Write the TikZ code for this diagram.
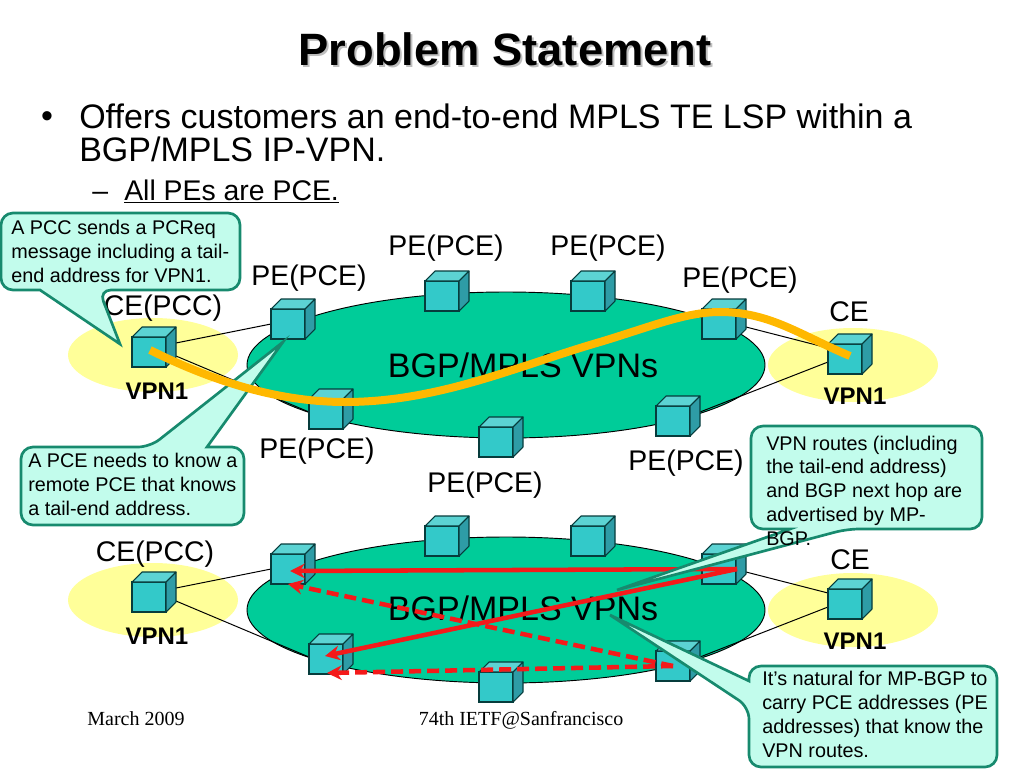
\documentclass[tikz,border=0pt]{standalone}
\usepackage{fontspec}
\setmainfont{Liberation Sans}
\newfontfamily\seriffam{Liberation Serif}
\usetikzlibrary{arrows.meta}
\pgfdeclarelayer{bg}
\pgfsetlayers{bg,main}
\definecolor{cubefront}{HTML}{33C9C9}
\definecolor{cubetop}{HTML}{5CD3D3}
\definecolor{cubeside}{HTML}{2E9CA6}
\definecolor{cubeedge}{HTML}{063C3C}
\definecolor{cloud}{HTML}{00CC99}
\definecolor{siteyellow}{HTML}{FFFF99}
\definecolor{notefill}{HTML}{C2FCEC}
\definecolor{noteline}{HTML}{178A6E}
\definecolor{tubeorange}{HTML}{FFB800}
\definecolor{arrowred}{HTML}{F41A1A}
\tikzset{
  x=0.75pt,y=-0.75pt,
  cubebox/.style={draw=cubeedge,line width=0.8pt,fill=cubefront,minimum width=25.5pt,minimum height=22.5pt,inner sep=0pt,outer sep=0pt},
  cubeface/.style={draw=cubeedge,line width=0.8pt,line join=round},
  cloudshape/.style={draw=black,line width=0.7pt,fill=cloud},
  siteshape/.style={fill=siteyellow},
  link/.style={draw=black,line width=0.75pt},
  plabel/.style={anchor=base,inner sep=0pt,font=\fontsize{21.3}{25}\selectfont},
  vpnlabel/.style={anchor=base,inner sep=0pt,font=\fontsize{18}{22}\selectfont\bfseries},
  cloudlabel/.style={anchor=base,inner sep=0pt,font=\fontsize{25.5}{30}\selectfont},
  notebody/.style={draw=noteline,line width=2pt,fill=notefill,line join=miter},
  notetext/.style={anchor=base west,inner sep=0pt,align=left,font=\fontsize{14.85}{17.8}\selectfont},
  tube/.style={draw=tubeorange,line width=6pt},
  redsolid/.style={draw=arrowred,line width=3.4pt,-{Stealth[length=11pt,width=11pt]}},
  reddash/.style={draw=arrowred,line width=3.4pt,dash pattern=on 9pt off 4.5pt,-{Stealth[length=11pt,width=11pt]}},
  footer/.style={anchor=base,inner sep=0pt,font=\seriffam\fontsize{15}{18}\selectfont},
}
\newcommand{\cubeat}[3]{%
  \node[cubebox] (#1) at (#2+17,#3+15) {};
  \draw[cubeface,fill=cubetop] (#1.north west) -- ++(10,-10) -- ++(34,0) -- ++(-10,10) -- cycle;
  \draw[cubeface,fill=cubeside] (#1.north east) -- ++(10,-10) -- ++(0,30) -- ++(-10,10) -- cycle;
}
\begin{document}
\begin{tikzpicture}
\useasboundingbox (0,0) rectangle (1024,768);
% cubes, upper network
\cubeat{ceA}{132}{337}
\cubeat{peA}{271}{309}
\cubeat{peB}{309}{399}
\cubeat{peC}{425}{281}
\cubeat{peD}{571}{281}
\cubeat{peE}{702}{309}
\cubeat{peF}{656}{406}
\cubeat{peG}{479}{427}
\cubeat{ceB}{828}{344}
% cubes, lower network
\cubeat{ceC}{132}{582}
\cubeat{peH}{271}{554}
\cubeat{peI}{309}{644}
\cubeat{peJ}{425}{526}
\cubeat{peK}{571}{526}
\cubeat{peL}{702}{554}
\cubeat{peM}{656}{651}
\cubeat{peN}{479}{672}
\cubeat{ceD}{828}{589}
\begin{pgfonlayer}{bg}
  \fill[siteshape] (153,355) ellipse [x radius=85,y radius=37];
  \fill[siteshape] (853,365) ellipse [x radius=85,y radius=37];
  \fill[siteshape] (153,600) ellipse [x radius=85,y radius=37];
  \fill[siteshape] (853,610) ellipse [x radius=85,y radius=37];
  \draw[cloudshape] (506,365) ellipse [x radius=259,y radius=73];
  \draw[cloudshape] (506,610) ellipse [x radius=259,y radius=73];
  \draw[link] ([shift={(10,6)}]ceA.north east) -- (peA.west);
  \draw[link] ([shift={(10,19)}]ceA.north east) -- ([shift={(0,13)}]peB.north west);
  \draw[link] ([shift={(10,18)}]peE.north east) -- ([shift={(0,4)}]ceB.north west);
  \draw[link] ([shift={(10,6)}]peF.north east) -- ([shift={(0,18)}]ceB.north west);
  \draw[link] ([shift={(10,6)}]ceC.north east) -- (peH.west);
  \draw[link] ([shift={(10,19)}]ceC.north east) -- ([shift={(0,13)}]peI.north west);
  \draw[link] ([shift={(10,18)}]peL.north east) -- ([shift={(0,4)}]ceD.north west);
  \draw[link] ([shift={(10,6)}]peM.north east) -- ([shift={(0,18)}]ceD.north west);
\end{pgfonlayer}
% title and bullets
\node[anchor=base,inner sep=0pt,text=black!25,font=\fontsize{34}{40}\selectfont\bfseries] (titleshadow) at (507,67) {Problem Statement};
\node[anchor=base,inner sep=0pt,font=\fontsize{34}{40}\selectfont\bfseries] (title) at (505,65) {Problem Statement};
\node[anchor=base,inner sep=0pt,font=\fontsize{25.5}{30}\selectfont] (bullet) at (47,127) {•};
\node[anchor=base west,inner sep=0pt,font=\fontsize{25.5}{30}\selectfont] (lineone) at (79,128) {Offers customers an end-to-end MPLS TE LSP within a};
\node[anchor=base west,inner sep=0pt,font=\fontsize{25.5}{30}\selectfont] (linetwo) at (79,161) {BGP/MPLS IP-VPN.};
\node[anchor=base west,inner sep=0pt,font=\fontsize{21.3}{25}\selectfont] (dash) at (92,200) {–};
\node[anchor=base west,inner sep=0pt,font=\fontsize{21.3}{25}\selectfont] (subline) at (124,200) {\underline{All PEs are PCE.}};
% labels
\node[plabel] (l1) at (446,255) {PE(PCE)};
\node[plabel] (l2) at (608,255) {PE(PCE)};
\node[plabel] (l3) at (309,285) {PE(PCE)};
\node[plabel] (l4) at (740,287) {PE(PCE)};
\node[plabel] (l5) at (317,458) {PE(PCE)};
\node[plabel] (l6) at (686,470) {PE(PCE)};
\node[plabel] (l7) at (485,492) {PE(PCE)};
\node[plabel] (l8) at (163,315) {CE(PCC)};
\node[plabel] (l9) at (155,561) {CE(PCC)};
\node[plabel] (l10) at (849,321) {CE};
\node[plabel] (l11) at (850,569) {CE};
\node[vpnlabel] (v1) at (157,399) {VPN1};
\node[vpnlabel] (v2) at (855,404) {VPN1};
\node[vpnlabel] (v3) at (157,644) {VPN1};
\node[vpnlabel] (v4) at (855,649) {VPN1};
\node[cloudlabel] (c1) at (523,377) {BGP/MPLS VPNs};
\node[cloudlabel] (c2) at (523,620) {BGP/MPLS VPNs};
\node[footer] (f1) at (136,725) {March 2009};
\node[footer] (f2) at (521,725) {74th IETF@Sanfrancisco};
% notes
\draw[notebody] (120,213) [rounded corners=9pt] -- (240,213) -- (240,290) -- (99,290) [sharp corners] -- (120,344) -- (40,290) [rounded corners=9pt] -- (1,290) -- (1,213) -- cycle;
\node[notetext] (n1) at (11,282) {A PCC sends a PCReq\\message including a tail-\\end address for VPN1.};
\draw[notebody] (120,525) [rounded corners=9pt] -- (21,525) -- (21,447) -- (150,447) [sharp corners] -- (283,342) -- (207,447) [rounded corners=9pt] -- (244,447) -- (244,525) -- cycle;
\node[notetext] (n2) at (28,515) {A PCE needs to know a\\remote PCE that knows\\a tail-end address.};
% connection through the upper network
\draw[tube] ([shift={(1,-2)}]ceA.center) .. controls (220,385) and (285,402) .. (345,402) .. controls (440,402) and (520,365) .. (600,342) .. controls (650,327) and (685,312) .. (720,312) .. controls (770,312) and (800,335) .. ([shift={(5,-3)}]ceB.center);
% red arrows
\draw[redsolid] ([shift={(18,0)}]peL.center) -- ([shift={(2,2)}]peH.center);
\draw[reddash] (peM.center) -- ([shift={(0,15)}]peH.center);
\draw[reddash] (peM.center) -- ([shift={(1,14)}]peI.center);
\draw[notebody] (900,426) [rounded corners=9pt] -- (982,426) -- (982,529) -- (847,529) [sharp corners] -- (617,590) -- (790,529) [rounded corners=9pt] -- (751,529) -- (751,426) -- cycle;
\node[notetext] (n3) at (766,545) {VPN routes (including\\the tail-end address)\\and BGP next hop are\\advertised by MP-\\BGP.};
\draw[redsolid] ([shift={(18,0)}]peL.center) -- ([shift={(-1,-3)}]peI.center);
\draw[notebody] (870,666) [rounded corners=9pt] -- (997,666) -- (997,767) -- (749,767) -- (749,707) [sharp corners] -- (610,615) -- (749,681) [rounded corners=9pt] -- (749,666) -- cycle;
\node[notetext] (n4) at (762,757) {It’s natural for MP-BGP to\\carry PCE addresses (PE\\addresses) that know the\\VPN routes.};
\end{tikzpicture}
\end{document}
